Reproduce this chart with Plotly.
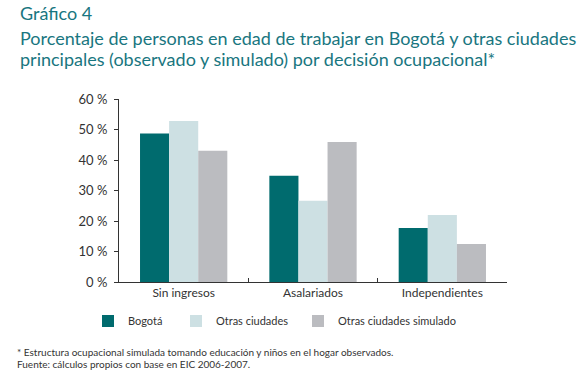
import plotly.graph_objects as go

categories = ["Sin ingresos", "Asalariados", "Independientes"]
bogota = [48.7, 34.8, 17.7]
otras = [52.8, 26.6, 22.0]
otras_sim = [43.0, 45.9, 12.5]
series_names = ["Bogotá", "Otras ciudades", "Otras ciudades simulado"]
tick_vals = [0, 10, 20, 30, 40, 50, 60]
tick_text = ["0 %", "10 %", "20 %", "30 %", "40 %", "50 %", "60 %"]

colors = ["#006B6E", "#CDE0E3", "#BBBCC0"]
font_family = "Lato, 'Open Sans', sans-serif"
title_color = "#197680"
text_color = "#333333"

# plot area: x 119..507, y 99..282 in a 585x370 figure
L, R, T, B = 119, 78, 99, 88
PW, PH = 585 - L - R, 370 - T - B


def px_x(x):
    return (x - L) / PW


def px_y(y):
    return (370 - B - y) / PH


fig = go.Figure()
legend_ids = ["legend", "legend2", "legend3"]
for name, vals, col, lg in zip(series_names, [bogota, otras, otras_sim], colors, legend_ids):
    fig.add_trace(go.Bar(x=categories, y=vals, name=name, marker_color=col,
                         marker_line_width=0, legend=lg))

legend_square_x = [106, 194, 316]
leg_common = dict(orientation="h", yanchor="middle", xanchor="left",
                  font=dict(size=11, color=text_color, family=font_family),
                  itemwidth=30, bgcolor="rgba(0,0,0,0)", borderwidth=0)
legends = {}
for lg, sx in zip(legend_ids, legend_square_x):
    legends[lg] = dict(leg_common, x=px_x(sx - 14 - 4), y=px_y(321))

fig.update_layout(
    width=585, height=370,
    margin=dict(l=L, r=R, t=T, b=B),
    paper_bgcolor="white", plot_bgcolor="white",
    barmode="group", bargap=0.325, bargroupgap=0,
    font=dict(family=font_family, size=12, color=text_color),
    showlegend=True,
    xaxis=dict(showline=True, linecolor=text_color, linewidth=1, ticks="inside",
               tickson="boundaries", ticklen=4, tickcolor=text_color,
               showgrid=False, tickfont=dict(size=12, color=text_color)),
    yaxis=dict(range=[0, 60], tickvals=tick_vals, ticktext=tick_text,
               showline=True, linecolor=text_color, linewidth=1, ticks="outside",
               ticklen=4, tickcolor=text_color, showgrid=False, zeroline=False,
               ticklabelstandoff=4,
               tickfont=dict(size=13, color=text_color)),
    **legends,
)

fig.add_annotation(text="Gráfico 4", xref="paper", yref="paper", x=px_x(18), y=px_y(13),
                   xanchor="left", yanchor="middle", showarrow=False, align="left",
                   font=dict(size=18, color=title_color, family=font_family))
fig.add_annotation(text="Porcentaje de personas en edad de trabajar en Bogotá y otras ciudades",
                   xref="paper", yref="paper", x=px_x(18), y=px_y(38),
                   xanchor="left", yanchor="middle", showarrow=False, align="left",
                   font=dict(size=18, color=title_color, family=font_family))
fig.add_annotation(text="principales (observado y simulado) por decisión ocupacional*",
                   xref="paper", yref="paper", x=px_x(18), y=px_y(59),
                   xanchor="left", yanchor="middle", showarrow=False, align="left",
                   font=dict(size=18, color=title_color, family=font_family))
fig.add_annotation(text="* Estructura ocupacional simulada tomando educación y niños en el hogar observados.",
                   xref="paper", yref="paper", x=px_x(15), y=px_y(352),
                   xanchor="left", yanchor="middle", showarrow=False, align="left",
                   font=dict(size=10, color=text_color, family=font_family))
fig.add_annotation(text="Fuente: cálculos propios con base en EIC 2006-2007.",
                   xref="paper", yref="paper", x=px_x(15), y=px_y(364),
                   xanchor="left", yanchor="middle", showarrow=False, align="left",
                   font=dict(size=10, color=text_color, family=font_family))

fig.write_html("out.html", config={"displayModeBar": False},
               post_script="document.body.style.margin='0';")
